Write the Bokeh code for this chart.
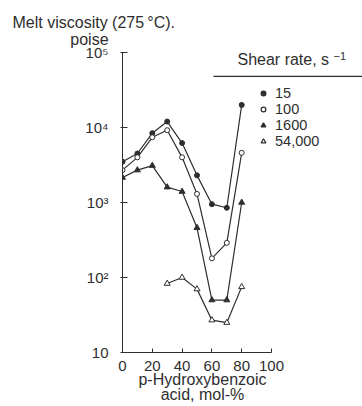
from bokeh.plotting import figure
from bokeh.models import (ColumnDataSource, FixedTicker, Label, Legend, LegendItem,
                          BoxAnnotation, Range1d, Title)
from bokeh.embed import file_html
from bokeh.resources import INLINE

# ---- data ----
hba = [0, 10, 20, 30, 40, 50, 60, 70, 80]
visc_15 = [3500, 4500, 8400, 12000, 6200, 2300, 950, 850, 20000]
visc_100 = [2700, 4000, 7400, 9200, 4000, 1300, 180, 290, 4600]
visc_1600 = [2150, 2700, 3100, 1600, 1400, 460, 50, 50, 1000]
hba_54000 = [30, 40, 50, 60, 70, 80]
visc_54000 = [83, 100, 70, 27, 25, 75]

shear_labels = ["15", "100", "1600", "54,000"]
x_ticks = [0, 20, 40, 60, 80, 100]
y_ticks = [10, 100, 1000, 10000, 100000]
y_tick_labels = ["10", "10\u00b2", "10\u00b3", "10\u2074", "10\u2075"]

FONT = "Liberation Sans"
INK = "#2e2e2e"

W, H = 362, 406
LEFT, TOP, BOTTOM = 122, 49, 53
frame_w = W - LEFT
frame_h = H - TOP - BOTTOM
px_per_unit = 1.49
px_per_decade = 75.25

p = figure(width=W, height=H, output_backend="svg", toolbar_location=None, title=None,
           x_axis_type="linear", y_axis_type="log",
           x_range=Range1d(0, frame_w / px_per_unit),
           y_range=Range1d(10, 10 ** (1 + frame_h / px_per_decade)),
           min_border_left=LEFT, min_border_right=0, min_border_top=TOP,
           min_border_bottom=BOTTOM)
p.background_fill_color = "white"
p.border_fill_color = "white"
p.outline_line_color = None
p.xgrid.visible = False
p.ygrid.visible = False

# x-axis title, shifted left (trailing no-break spaces) so it centres under 0-100
shift = "\u00a0" * 18
xa = p.xaxis[0]
xa.bounds = (0, 100)
xa.ticker = FixedTicker(ticks=x_ticks)
xa.minor_tick_line_color = None
xa.major_tick_in = 4
xa.major_tick_out = 0
xa.major_label_standoff = 8
xa.axis_line_color = INK
xa.major_tick_line_color = INK
xa.major_label_text_font = FONT
xa.major_label_text_font_size = "15px"
xa.major_label_text_color = INK
xa.axis_label = "p-Hydroxybenzoic" + shift + "\nacid, mol-%" + shift
xa.axis_label_standoff = -3
xa.axis_label_text_font = FONT
xa.axis_label_text_font_size = "16px"
xa.axis_label_text_font_style = "normal"
xa.axis_label_text_color = INK
xa.axis_label_text_line_height = 0.94

ya = p.yaxis[0]
ya.bounds = (10, 1e5)
ya.ticker = FixedTicker(ticks=y_ticks)
ya.major_label_overrides = {t: s for t, s in zip(y_ticks, y_tick_labels)}
ya.minor_tick_line_color = None
ya.major_tick_in = 5
ya.major_tick_out = 2
ya.major_label_standoff = 12
ya.axis_line_color = INK
ya.major_tick_line_color = INK
ya.major_label_text_font = FONT
ya.major_label_text_font_size = "15px"
ya.major_label_text_color = INK

series = [
    (hba, visc_15, dict(marker="circle", size=5, fill_color=INK), dict(marker="circle", size=8, fill_color=INK)),
    (hba, visc_100, dict(marker="circle", size=5, fill_color="white"), dict(marker="circle", size=8, fill_color="white")),
    (hba, visc_1600, dict(marker="triangle", size=6, fill_color=INK), dict(marker="triangle", size=10, fill_color=INK)),
    (hba_54000, visc_54000, dict(marker="triangle", size=6, fill_color="white"), dict(marker="triangle", size=10, fill_color="white")),
]

nan = float("nan")
items = []
for (xs, ys, mk, lg), lab in zip(series, shear_labels):
    src = ColumnDataSource(dict(x=xs, y=ys))
    p.line("x", "y", source=src, line_color=INK, line_width=1.2)
    p.scatter("x", "y", source=src, line_color=INK, line_width=1, **mk)
    # legend-only marker (not drawn in the plot: NaN position)
    proxy = p.scatter(x=[nan], y=[nan], line_color=INK, line_width=1.2, **lg)
    items.append(LegendItem(label=lab, renderers=[proxy]))

legend = Legend(items=items, location=(135, 203), orientation="vertical",
                label_text_font=FONT, label_text_font_size="14.5px", label_text_color=INK,
                glyph_width=12, glyph_height=12, label_height=12, label_standoff=6,
                spacing=0, padding=0, margin=0, border_line_color=None,
                background_fill_alpha=0)
p.add_layout(legend, "center")

# legend heading (frame-relative screen coordinates, origin bottom-left of frame)
def lab(text, sx, sy, size, align="left"):
    p.add_layout(Label(x=sx, y=sy, x_units="screen", y_units="screen", text=text,
                       text_font=FONT, text_font_size=size, text_color=INK,
                       text_align=align, text_baseline="middle"))

lab("Shear rate, s", 115, 293, "16px")
lab("\u22121", 211, 297, "11px")

p.add_layout(BoxAnnotation(left=91, right=frame_w + 5, bottom=275.6, top=276.8,
                           left_units="screen", right_units="screen",
                           bottom_units="screen", top_units="screen",
                           fill_color=INK, fill_alpha=1, line_color=None))

# y-quantity title above the plot (second line indented under "viscosity")
pad = "\u00a0" * 13
p.add_layout(Title(text="Melt viscosity (275\u2009\u00b0C).\n" + pad + "poise",
                   align="left", offset=-110, standoff=2,
                   text_font=FONT, text_font_size="16px", text_color=INK,
                   text_font_style="normal", text_line_height=1.05), "above")

open("out.html", "w").write(file_html(p, INLINE))
